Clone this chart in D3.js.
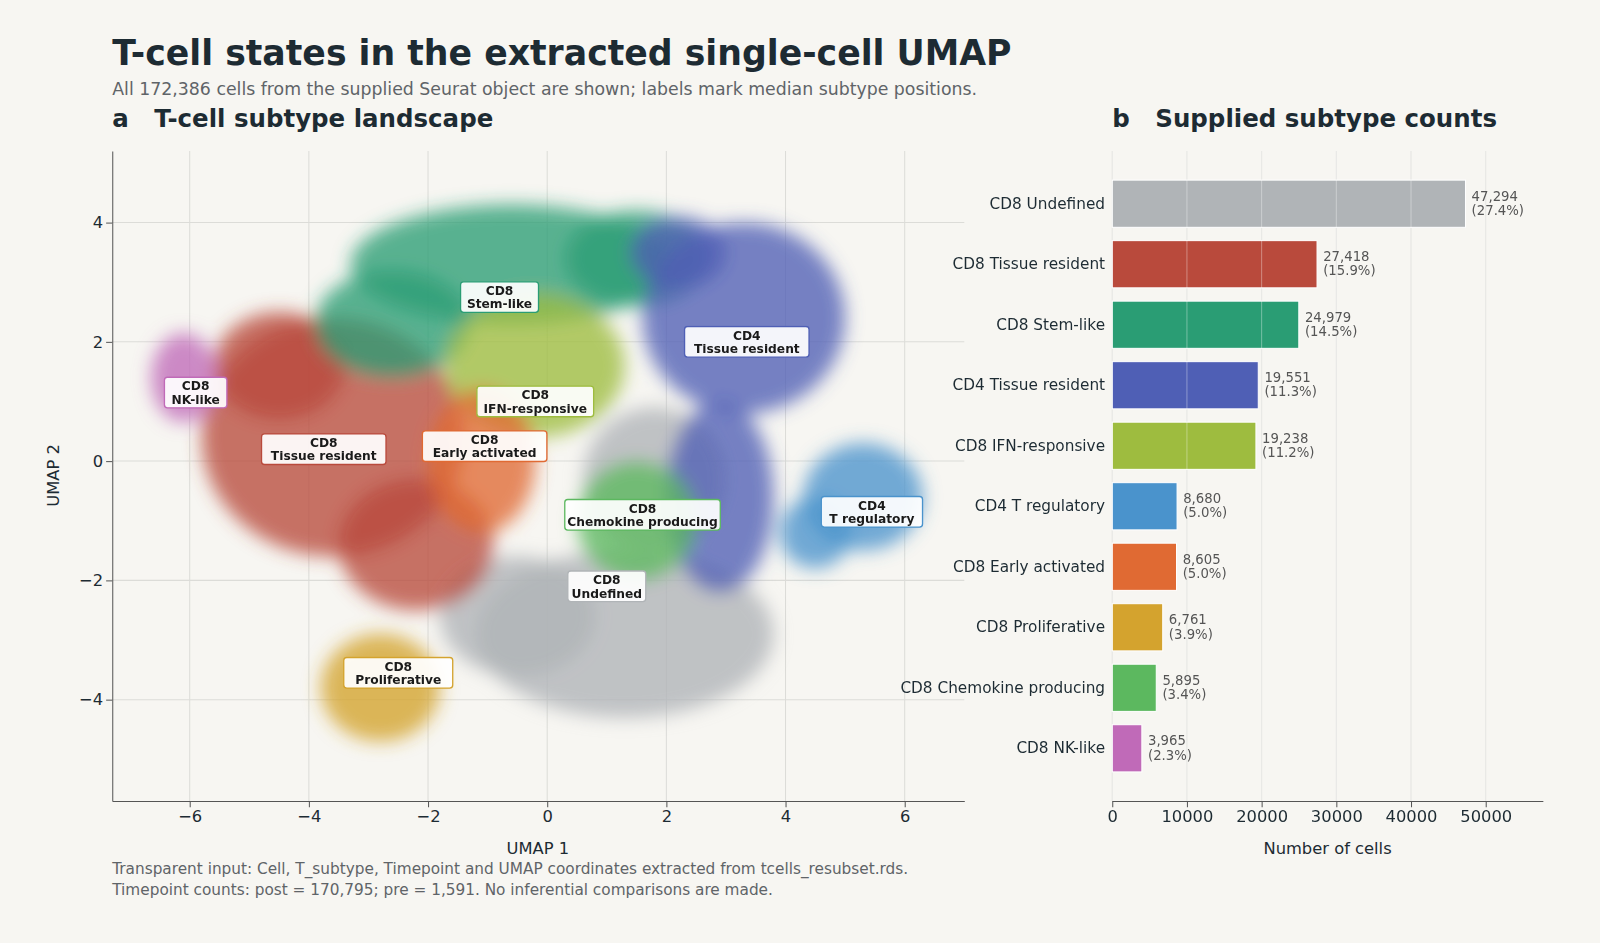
<!DOCTYPE html>
<html><head><meta charset="utf-8">
<script src="https://cdn.jsdelivr.net/npm/d3@7"></script>
<style>body{margin:0;background:#f7f6f2;font-family:"DejaVu Sans",sans-serif}</style>
</head><body><svg id="c" width="1600" height="943"></svg>
<script>
const subtypes=["CD8 Undefined","CD8 Tissue resident","CD8 Stem-like","CD4 Tissue resident","CD8 IFN-responsive","CD4 T regulatory","CD8 Early activated","CD8 Proliferative","CD8 Chemokine producing","CD8 NK-like"];
const counts=[47294,27418,24979,19551,19238,8680,8605,6761,5895,3965];
const pcts=["27.4%","15.9%","14.5%","11.3%","11.2%","5.0%","5.0%","3.9%","3.4%","2.3%"];
const colors=["#b0b4b7","#b94a3c","#2a9d74","#4f5fb5","#9ebc3f","#4a93cc","#e06a33","#d4a32e","#5cb85f","#c06ab8"];
// approximate density regions read from UMAP: subtype index, cx, cy, rx, ry
const blobs=[
 [0,1.3,-2.9,2.5,1.4],[0,1.8,-0.3,1.2,1.2],[0,-0.5,-2.6,1.3,1.0],
 [1,-3.6,0.4,2.2,2.0],[1,-2.2,-1.4,1.3,1.1],[1,-4.5,1.6,1.1,0.9],
 [2,-0.6,3.3,2.7,1.0],[2,-2.6,2.3,1.3,0.9],[2,1.5,3.4,1.2,0.8],
 [3,3.3,2.4,1.7,1.6],[3,2.9,-0.6,0.9,1.6],[3,2.2,3.5,0.8,0.6],
 [4,-0.2,1.6,1.5,1.2],
 [5,5.3,-0.6,1.0,0.9],[5,4.5,-1.2,0.6,0.6],
 [6,-1.1,0.0,0.9,1.2],
 [7,-2.8,-3.8,1.0,0.9],
 [8,1.5,-1.0,1.0,1.0],
 [9,-6.1,1.4,0.55,0.75]
];
const labels=[["CD8","Stem-like",-0.8,2.75,2],["CD4","Tissue resident",3.35,2.0,3],["CD8","NK-like",-5.9,1.15,9],["CD8","IFN-responsive",-0.2,1.0,4],["CD8","Tissue resident",-3.75,0.2,1],["CD8","Early activated",-1.05,0.25,6],["CD8","Chemokine producing",1.6,-0.9,8],["CD8","Undefined",1.0,-2.1,0],["CD8","Proliferative",-2.5,-3.55,7],["CD4","T regulatory",5.45,-0.85,5]];
const xTicks=[-6,-4,-2,0,2,4,6], yTicks=[-4,-2,0,2,4], bTicks=[0,10000,20000,30000,40000,50000];

const root=d3.select("#c"), ink="#1d2b33", grey="#5f6468";
root.append("rect").attr("width",1600).attr("height",943).attr("fill","#f7f6f2");
const svg=root.append("g").attr("transform","scale(1.0204)");
svg.append("text").attr("x",110).attr("y",64).attr("font-size",34).attr("font-weight","bold").attr("fill",ink).text("T-cell states in the extracted single-cell UMAP");
svg.append("text").attr("x",110).attr("y",93).attr("font-size",17).attr("fill",grey).text("All 172,386 cells from the supplied Seurat object are shown; labels mark median subtype positions.");
svg.append("text").attr("x",110).attr("y",124).attr("font-size",24).attr("font-weight","bold").attr("fill",ink).text("a\u00a0\u00a0\u00a0T-cell subtype landscape");
svg.append("text").attr("x",1090).attr("y",124).attr("font-size",24).attr("font-weight","bold").attr("fill",ink).text("b\u00a0\u00a0\u00a0Supplied subtype counts");
svg.append("text").attr("x",110).attr("y",857).attr("font-size",15).attr("fill",grey).text("Transparent input: Cell, T_subtype, Timepoint and UMAP coordinates extracted from tcells_resubset.rds.");
svg.append("text").attr("x",110).attr("y",877).attr("font-size",15).attr("fill",grey).text("Timepoint counts: post = 170,795; pre = 1,591. No inferential comparisons are made.");

// Panel a
const x=d3.scaleLinear().domain([-7.3,7.0]).range([110,945]);
const y=d3.scaleLinear().domain([-5.7,5.2]).range([785,148]);
const defs=root.append("defs");
defs.append("filter").attr("id","blur").attr("x","-50%").attr("y","-50%").attr("width","200%").attr("height","200%")
 .append("feGaussianBlur").attr("stdDeviation",9);
defs.append("clipPath").attr("id","clipA").append("rect").attr("x",110).attr("y",148).attr("width",835).attr("height",637);
const ga=svg.append("g");
ga.selectAll(".gx").data(xTicks).join("line").attr("x1",d=>x(d)).attr("x2",d=>x(d)).attr("y1",148).attr("y2",785).attr("stroke","#dcdcd8");
ga.selectAll(".gy").data(yTicks).join("line").attr("y1",d=>y(d)).attr("y2",d=>y(d)).attr("x1",110).attr("x2",945).attr("stroke","#dcdcd8");
const gb=ga.append("g").attr("clip-path","url(#clipA)").append("g").attr("filter","url(#blur)");
gb.selectAll("ellipse").data(blobs).join("ellipse")
 .attr("cx",d=>x(d[1])).attr("cy",d=>y(d[2])).attr("rx",d=>x(d[3])-x(0)).attr("ry",d=>y(0)-y(d[4]))
 .attr("fill",d=>colors[d[0]]).attr("opacity",0.78);
const ax=ga.append("g").attr("transform","translate(0,785)").call(d3.axisBottom(x).tickValues(xTicks).tickFormat(d=>d<0?"\u2212"+(-d):d).tickSizeOuter(0));
const ay=ga.append("g").attr("transform","translate(110,0)").call(d3.axisLeft(y).tickValues(yTicks).tickFormat(d=>d<0?"\u2212"+(-d):d).tickSizeOuter(0));
[ax,ay].forEach(a=>{a.selectAll("text").attr("font-size",16).attr("fill",ink).attr("font-family","DejaVu Sans");a.select(".domain").attr("stroke","#555");a.selectAll(".tick line").attr("stroke","#555");});
ga.append("text").attr("x",527).attr("y",837).attr("text-anchor","middle").attr("font-size",16).attr("fill",ink).text("UMAP 1");
ga.append("text").attr("transform","translate(58,466) rotate(-90)").attr("text-anchor","middle").attr("font-size",16).attr("fill",ink).text("UMAP 2");
labels.forEach(l=>{
 const g=ga.append("g").attr("transform",`translate(${x(l[2])},${y(l[3])})`);
 const w=l[1].length*7.6+8;
 g.append("rect").attr("x",-w/2).attr("y",-15).attr("width",w).attr("height",30).attr("rx",3).attr("fill","white").attr("fill-opacity",0.92).attr("stroke",colors[l[4]]).attr("stroke-width",1.3);
 g.append("text").attr("y",-2).attr("text-anchor","middle").attr("font-size",12).attr("font-weight","bold").attr("fill","#1a1a1a").text(l[0]);
 g.append("text").attr("y",11).attr("text-anchor","middle").attr("font-size",12).attr("font-weight","bold").attr("fill","#1a1a1a").text(l[1]);
});

// Panel b
const bx=d3.scaleLinear().domain([0,57650]).range([1090,1512]);
const by=d3.scaleBand().domain(subtypes).range([170,763]).paddingInner(0.22).paddingOuter(0.11);
const gB=svg.append("g");
gB.selectAll(".g").data(bTicks).join("line").attr("x1",d=>bx(d)).attr("x2",d=>bx(d)).attr("y1",148).attr("y2",785).attr("stroke","#dcdcd8");
gB.selectAll("rect.bar").data(subtypes).join("rect").attr("x",bx(0)).attr("y",d=>by(d)).attr("height",by.bandwidth()).attr("width",(d,i)=>bx(counts[i])-bx(0)).attr("fill",(d,i)=>colors[i]).attr("stroke","white").attr("stroke-width",1);
gB.selectAll(".gl").data(bTicks).join("line").attr("x1",d=>bx(d)).attr("x2",d=>bx(d)).attr("y1",148).attr("y2",785).attr("stroke","#ffffff").attr("stroke-opacity",0.35);
subtypes.forEach((s,i)=>{
 const t=gB.append("text").attr("x",bx(counts[i])+6).attr("y",by(s)+by.bandwidth()/2-3).attr("font-size",13).attr("fill","#555");
 t.append("tspan").text(d3.format(",")(counts[i]));
 t.append("tspan").attr("x",bx(counts[i])+6).attr("dy",14).text("("+pcts[i]+")");
 gB.append("text").attr("x",1083).attr("y",by(s)+by.bandwidth()/2+5).attr("text-anchor","end").attr("font-size",15).attr("fill",ink).text(s);
});
const bax=gB.append("g").attr("transform","translate(0,785)").call(d3.axisBottom(bx).tickValues(bTicks).tickFormat(d3.format("d")).tickSizeOuter(0));
bax.selectAll("text").attr("font-size",16).attr("fill",ink).attr("font-family","DejaVu Sans");
bax.select(".domain").attr("stroke","#555");bax.selectAll(".tick line").attr("stroke","#555");
gB.append("text").attr("x",1301).attr("y",837).attr("text-anchor","middle").attr("font-size",16).attr("fill",ink).text("Number of cells");
</script></body></html>
